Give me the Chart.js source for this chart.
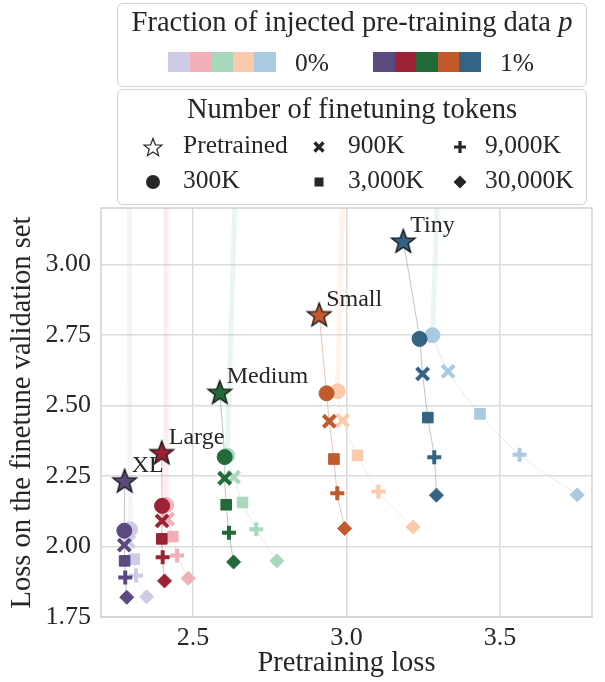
<!DOCTYPE html>
<html>
<head>
<meta charset="utf-8">
<script src="https://cdn.jsdelivr.net/npm/chart.js@4.4.0/dist/chart.umd.min.js"></script>
<style>
body { margin: 0; background: #fff; }
#wrap { position: relative; width: 605px; height: 682px; font-family: "Liberation Serif", serif; color: #262626; }
#chart { position: absolute; left: 0; top: 0; }
.box { position: absolute; left: 117px; width: 470px; border: 1px solid #d2d2d2; border-radius: 6px; background: #fff; box-sizing: border-box; }
.t { position: absolute; white-space: nowrap; font-size: 25.5px; line-height: 1; }
.sw { position: absolute; top: 52px; width: 21.5px; height: 20px; }
svg.m { position: absolute; overflow: visible; }
</style>
</head>
<body>
<div id="wrap">
  <canvas id="chart" width="605" height="682"></canvas>
  <div class="box" style="top:3px;height:84px"></div>
  <div class="box" style="top:89px;height:116px"></div>
  <div class="t" style="left:117px;width:470px;top:8px;text-align:center;font-size:28.5px">Fraction of injected pre-training data <i>p</i></div>
  <div id="sw0"></div>
  <div class="t" style="left:295px;top:50px">0%</div>
  <div id="sw1"></div>
  <div class="t" style="left:500px;top:50px">1%</div>
  <div class="t" style="left:117px;width:470px;top:95px;text-align:center;font-size:28.5px">Number of finetuning tokens</div>
  <div id="tokLegend"></div>
</div>
<script>
// model sizes and colours (0% injected = light, 1% injected = dark)
const models = ['XL', 'Large', 'Medium', 'Small', 'Tiny'];
const tokenLabels = ['Pretrained', '300K', '900K', '3,000K', '9,000K', '30,000K'];
const darkColors = ['#5a4a7f', '#9c2236', '#236a39', '#c15a2d', '#346384'];
const lightColors = ['#d0cbe5', '#f1afb7', '#a9d8bd', '#fbc9ab', '#a9cbe1'];

// pretrained checkpoints (stars)
const starX = [2.277, 2.398, 2.587, 2.911, 3.185];
const starY = [2.233, 2.333, 2.547, 2.822, 3.083];

// finetuned, 1% injected: rows = model, cols = 300K, 900K, 3,000K, 9,000K, 30,000K
const darkX = [
  [2.276, 2.276, 2.277, 2.279, 2.284],
  [2.399, 2.399, 2.398, 2.401, 2.407],
  [2.603, 2.603, 2.608, 2.617, 2.632],
  [2.935, 2.944, 2.959, 2.970, 2.994],
  [3.238, 3.248, 3.265, 3.286, 3.293]
];
const darkY = [
  [2.056, 2.005, 1.949, 1.890, 1.820],
  [2.144, 2.091, 2.027, 1.962, 1.878],
  [2.317, 2.242, 2.148, 2.049, 1.945],
  [2.543, 2.444, 2.310, 2.189, 2.064],
  [2.736, 2.612, 2.457, 2.316, 2.182]
];

// finetuned, 0% injected
const lightX = [
  [2.295, 2.290, 2.308, 2.314, 2.349],
  [2.412, 2.417, 2.434, 2.448, 2.484],
  [2.611, 2.632, 2.661, 2.706, 2.773],
  [2.971, 2.987, 3.036, 3.104, 3.217],
  [3.280, 3.331, 3.435, 3.564, 3.752]
];
const lightY = [
  [2.061, 2.017, 1.955, 1.897, 1.822],
  [2.147, 2.097, 2.035, 1.968, 1.887],
  [2.322, 2.246, 2.156, 2.061, 1.949],
  [2.550, 2.447, 2.323, 2.195, 2.069],
  [2.749, 2.621, 2.470, 2.325, 2.183]
];
// where the 0% finetuning trajectories leave the top of the plot
const lightTopX = [2.292, 2.412, 2.640, 2.990, 3.300];

const xTicks = [2.5, 3.0, 3.5];
const yTicks = [1.75, 2.0, 2.25, 2.5, 2.75, 3.0];

const FONT = 'Liberation Serif';
const markerStyles = ['circle', 'crossRot', 'rect', 'cross', 'rectRot'];
const markerRadius = [7.5, 8.5, 7.5, 7, 7];
const markerBorder = [1, 4, 1, 4, 1];

function starPoints(cx, cy, R, r) {
  let pts = [];
  for (let k = 0; k < 10; k++) {
    let a = -Math.PI / 2 + k * Math.PI / 5;
    let rad = k % 2 == 0 ? R : r;
    pts.push([cx + rad * Math.cos(a), cy + rad * Math.sin(a)]);
  }
  return pts;
}

function starImage(color) {
  let c = document.createElement('canvas');
  c.width = 28; c.height = 28;
  let g = c.getContext('2d');
  let pts = starPoints(14, 15, 12.5, 5.2);
  g.beginPath();
  pts.forEach((p, i) => i == 0 ? g.moveTo(p[0], p[1]) : g.lineTo(p[0], p[1]));
  g.closePath();
  g.fillStyle = color;
  g.fill();
  g.lineWidth = 1.3;
  g.strokeStyle = '#111';
  g.stroke();
  return c;
}

function alpha(hex, a) {
  let n = parseInt(hex.slice(1), 16);
  return 'rgba(' + (n >> 16) + ',' + ((n >> 8) & 255) + ',' + (n & 255) + ',' + a + ')';
}

// colour swatches of the first legend
for (let i = 0; i < 5; i++) {
  let s = document.createElement('div');
  s.className = 'sw';
  s.style.left = (168 + i * 21.5) + 'px';
  s.style.background = lightColors[i];
  document.getElementById('sw0').appendChild(s);
  let d = document.createElement('div');
  d.className = 'sw';
  d.style.left = (373 + i * 21.5) + 'px';
  d.style.background = darkColors[i];
  document.getElementById('sw1').appendChild(d);
}

// marker legend
(function () {
  const holder = document.getElementById('tokLegend');
  const cols = [[153, 183], [319, 348], [460, 485]];
  const rows = [147, 182];
  const order = [[0, 2, 4], [1, 3, 5]];
  const ink = '#262626';
  function svgFor(idx, cx, cy) {
    let inner = '';
    if (idx == 0) {
      let p = starPoints(0, 1, 9.5, 4).map(q => q[0].toFixed(1) + ',' + q[1].toFixed(1)).join(' ');
      inner = '<polygon points="' + p + '" fill="#fff" stroke="' + ink + '" stroke-width="1.2"/>';
    } else if (idx == 1) {
      inner = '<circle r="7" fill="' + ink + '"/>';
    } else if (idx == 2) {
      inner = '<path d="M-4.5,-4.5L4.5,4.5M-4.5,4.5L4.5,-4.5" stroke="' + ink + '" stroke-width="3.2"/>';
    } else if (idx == 3) {
      inner = '<rect x="-4.5" y="-4.5" width="9" height="9" fill="' + ink + '"/>';
    } else if (idx == 4) {
      inner = '<path d="M-6,0L6,0M0,-6L0,6" stroke="' + ink + '" stroke-width="3.2"/>';
    } else {
      inner = '<path d="M0,-6.5L6.5,0L0,6.5L-6.5,0Z" fill="' + ink + '"/>';
    }
    return '<svg class="m" width="1" height="1" style="left:' + cx + 'px;top:' + cy + 'px">' + inner + '</svg>';
  }
  let html = '';
  for (let r = 0; r < 2; r++) {
    for (let c = 0; c < 3; c++) {
      let idx = order[r][c];
      html += svgFor(idx, cols[c][0], rows[r]);
      html += '<div class="t" style="left:' + cols[c][1] + 'px;top:' + (rows[r] - 15.5) + 'px">' + tokenLabels[idx] + '</div>';
    }
  }
  holder.innerHTML = html;
})();

// datasets
let datasets = [];
for (let i = 0; i < models.length; i++) {
  // faint vertical trajectory band of the 0% run
  datasets.push({
    data: [{x: lightTopX[i], y: 3.35}, {x: lightX[i][0], y: lightY[i][0]}],
    showLine: true, borderColor: alpha(lightColors[i], 0.22), borderWidth: 5,
    pointRadius: 0, clip: 0, order: 6
  });
  // thin trajectories through the finetuned points
  datasets.push({
    data: lightX[i].map((v, k) => ({x: v, y: lightY[i][k]})),
    showLine: true, borderColor: alpha(lightColors[i], 0.35), borderWidth: 1,
    tension: 0.3, pointRadius: 0, clip: 0, order: 5
  });
  datasets.push({
    data: [{x: starX[i], y: starY[i]}].concat(darkX[i].map((v, k) => ({x: v, y: darkY[i][k]}))),
    showLine: true, borderColor: alpha(darkColors[i], 0.35), borderWidth: 1,
    tension: 0.3, pointRadius: 0, clip: 0, order: 5
  });
  datasets.push({
    data: lightX[i].map((v, k) => ({x: v, y: lightY[i][k]})),
    pointStyle: markerStyles, pointRadius: markerRadius, pointBorderWidth: markerBorder,
    pointBackgroundColor: lightColors[i], pointBorderColor: lightColors[i], order: 3
  });
  datasets.push({
    data: darkX[i].map((v, k) => ({x: v, y: darkY[i][k]})),
    pointStyle: markerStyles, pointRadius: markerRadius, pointBorderWidth: markerBorder,
    pointBackgroundColor: darkColors[i], pointBorderColor: darkColors[i], order: 2
  });
}
datasets.push({
  data: starX.map((v, i) => ({x: v, y: starY[i]})),
  pointStyle: darkColors.map(c => starImage(c)), pointRadius: 12, order: 1
});

const frame = {
  id: 'frame',
  beforeDatasetsDraw(chart) {
    const a = chart.chartArea, ctx = chart.ctx;
    ctx.save();
    ctx.strokeStyle = '#d0d0d0';
    ctx.lineWidth = 1.5;
    ctx.strokeRect(a.left, a.top, a.right - a.left, a.bottom - a.top);
    ctx.restore();
  }
};

const modelLabels = {
  id: 'modelLabels',
  afterDatasetsDraw(chart) {
    const ctx = chart.ctx, xs = chart.scales.x, ys = chart.scales.y;
    ctx.save();
    ctx.font = '24px "' + FONT + '"';
    ctx.fillStyle = '#262626';
    ctx.textAlign = 'left';
    ctx.textBaseline = 'middle';
    for (let i = 0; i < models.length; i++) {
      ctx.fillText(models[i], xs.getPixelForValue(starX[i]) + 7, ys.getPixelForValue(starY[i]) - 15);
    }
    ctx.restore();
  }
};

new Chart(document.getElementById('chart'), {
  type: 'scatter',
  data: {datasets: datasets},
  plugins: [frame, modelLabels],
  options: {
    responsive: false,
    animation: false,
    layout: {padding: {top: 208, right: 2, left: 0, bottom: 0}},
    plugins: {legend: {display: false}, tooltip: {enabled: false}},
    scales: {
      x: {
        type: 'linear', min: 2.2, max: 3.8,
        afterBuildTicks: s => { s.ticks = xTicks.map(v => ({value: v})); },
        afterFit: s => { s.height = 65; },
        grid: {color: '#dcdcdc', lineWidth: 1.5, drawTicks: false},
        border: {display: false},
        ticks: {font: {family: FONT, size: 26}, color: '#262626', padding: 6, callback: v => v.toFixed(1)},
        title: {display: true, text: 'Pretraining loss', font: {family: FONT, size: 28.5}, color: '#262626', padding: {top: 0, bottom: 1}}
      },
      y: {
        type: 'linear', min: 1.75, max: 3.2,
        afterBuildTicks: s => { s.ticks = yTicks.map(v => ({value: v})); },
        afterFit: s => { s.width = 101; },
        grid: {color: '#dcdcdc', lineWidth: 1.5, drawTicks: false},
        border: {display: false},
        ticks: {font: {family: FONT, size: 26}, color: '#262626', padding: 10, callback: v => v.toFixed(2)},
        title: {display: true, text: 'Loss on the finetune validation set', font: {family: FONT, size: 28.5}, color: '#262626', padding: {top: 5, bottom: 0}}
      }
    }
  }
});
</script>
</body>
</html>
